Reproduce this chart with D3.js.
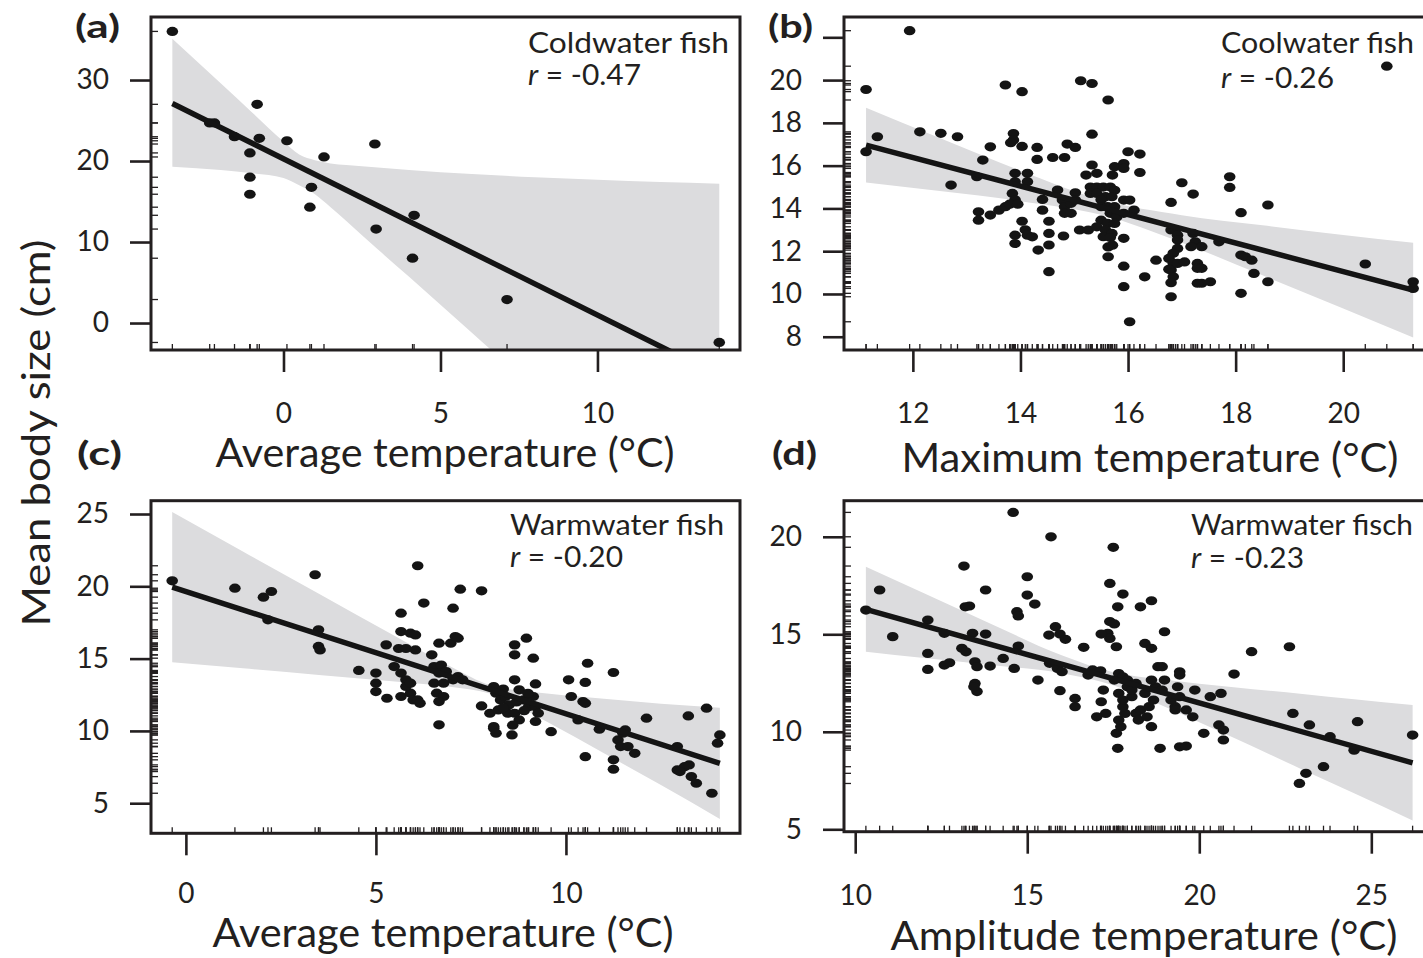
<!DOCTYPE html>
<html>
<head>
<meta charset="utf-8">
<script src="https://cdn.jsdelivr.net/npm/d3@7"></script>
<style>
    body { margin: 0; background: #fff; }
    text { font-family: Lato, "Open Sans", sans-serif; fill: #231f20; }
</style>
</head>
<body>
<svg id="chart" width="1423" height="958"></svg>
<script>
// ---- panel (a): coldwater fish, average temperature
var aTemp = [-3.54, -2.35, -2.2, -1.56, -1.07, -1.07, -1.07, -0.84, -0.77, 0.11, 0.89, 0.84, 1.29, 2.91, 2.95, 4.16, 4.11, 7.12, 13.88];
var aSize = [36.0, 24.7, 24.7, 23.0, 21.0, 18.0, 15.9, 27.0, 22.8, 22.5, 16.75, 14.3, 20.5, 22.1, 11.6, 13.3, 8.0, 2.9, -2.4];
var aFitT = [-3.54, 13.88];
var aFitV = [27.1, -6.5];
var aBandT = [-3.54, -2, -1, 0, 0.5, 1, 1.5, 2, 3, 4, 6, 8, 10, 12, 13.88];
var aBandHi = [35.1, 29.6, 26.0, 22.4, 20.8, 20.1, 19.7, 19.5, 19.2, 18.9, 18.4, 18.0, 17.7, 17.4, 17.2];
var aBandLo = [19.3, 18.9, 18.5, 17.9, 17.0, 15.9, 14.3, 12.6, 9.1, 5.7, -1.2, -8.1, -15.0, -21.9, -28.4];

// ---- panel (b): coolwater fish, maximum temperature
var bTemp = [11.94, 11.13, 20.81, 13.72, 14.03, 15.12, 15.33, 15.63, 12.13, 12.52, 12.83, 11.34, 11.13, 13.87, 13.87, 13.82, 14.03, 13.44, 13.30, 14.31,
    14.31, 14.60, 14.82, 14.87, 15.02, 15.33, 12.71, 13.19, 13.22, 13.22, 13.44, 13.60, 13.72, 13.90, 14.13, 13.90, 14.13, 13.85, 13.90, 13.80,
    13.95, 14.03, 14.09, 13.90, 14.13, 14.22, 13.90, 14.33, 14.53, 14.53, 14.53, 14.53, 14.41, 14.41, 14.69, 14.78, 14.82, 14.82, 14.94, 14.94,
    14.80, 15.02, 15.02, 15.10, 15.26, 15.33, 15.42, 15.22, 15.30, 15.42, 15.54, 15.67, 15.75, 15.30, 15.42, 15.58, 15.70, 15.50, 15.50, 15.62,
    15.75, 15.67, 15.79, 15.50, 15.62, 15.75, 15.42, 15.58, 15.70, 15.54, 15.67, 15.63, 15.71, 15.63, 15.71, 15.75, 15.92, 15.92, 16.00, 16.22,
    16.22, 15.92, 16.03, 16.11, 15.92, 15.92, 15.92, 15.92, 16.03, 16.31, 16.52, 16.80, 17.00, 17.21, 16.80, 16.88, 16.92, 16.92, 16.92, 16.84,
    16.76, 16.84, 16.80, 16.92, 16.76, 16.84, 16.80, 16.80, 17.05, 17.21, 17.25, 17.37, 17.17, 17.29, 17.29, 17.37, 17.37, 17.29, 17.53, 17.69,
    17.89, 17.89, 18.10, 18.10, 18.18, 18.30, 18.34, 18.10, 18.60, 18.60, 20.41, 21.30, 21.30];
var bSize = [22.31, 19.56, 20.65, 19.77, 19.46, 19.97, 19.84, 19.07, 17.58, 17.51, 17.35, 17.35, 16.65, 17.50, 17.20, 17.07, 16.90, 16.88, 16.26, 16.85,
    16.29, 16.38, 16.38, 17.01, 16.85, 17.47, 15.09, 15.48, 13.84, 13.45, 13.69, 13.92, 14.08, 15.64, 15.64, 15.25, 15.25, 14.70, 14.40, 14.20,
    14.20, 13.40, 13.00, 12.75, 12.75, 12.67, 12.36, 12.05, 11.04, 12.29, 12.83, 13.40, 14.42, 13.92, 14.86, 14.39, 14.08, 13.77, 13.77, 14.24,
    12.71, 14.73, 14.39, 12.99, 12.99, 16.03, 15.64, 15.56, 15.00, 15.00, 15.00, 15.00, 14.85, 14.70, 14.70, 14.55, 14.55, 14.40, 14.08, 14.08,
    14.08, 13.77, 13.60, 13.45, 13.30, 13.30, 13.14, 12.99, 12.83, 12.68, 12.64, 12.20, 12.28, 11.74, 15.56, 15.95, 16.10, 15.87, 16.65, 16.54,
    15.68, 14.39, 14.39, 13.92, 13.77, 12.60, 11.30, 10.34, 8.70, 10.80, 11.58, 14.28, 15.20, 14.67, 12.99, 12.99, 12.75, 12.52, 12.13, 11.90,
    11.66, 11.43, 11.12, 11.43, 11.15, 10.80, 10.53, 9.87, 11.50, 12.83, 12.44, 12.21, 12.21, 11.43, 11.20, 11.20, 10.50, 10.50, 10.57, 12.44,
    15.48, 14.98, 13.80, 11.82, 11.74, 11.58, 10.96, 10.03, 14.16, 10.57, 11.40, 10.57, 10.26];
var bFitT = [11.13, 21.3];
var bFitV = [16.96, 10.18];
var bBandT = [11.13, 12.5, 14, 15.5, 17, 18.5, 20, 21.3];
var bBandHi = [18.71, 17.29, 15.76, 14.40, 13.68, 13.21, 12.76, 12.39];
var bBandLo = [15.21, 14.81, 14.34, 13.70, 12.40, 10.87, 9.32, 7.97];

// ---- panel (c): warmwater fish, average temperature
var cTemp = [-0.36, 1.29, 2.04, 2.25, 2.16, 3.40, 3.49, 3.49, 3.53, 4.55, 5.00, 5.00, 5.00, 5.29, 5.27, 5.66, 5.66, 5.91, 6.04, 5.60,
    5.79, 6.04, 5.48, 5.66, 5.79, 5.66, 5.91, 5.98, 6.10, 6.16, 5.79, 5.91, 6.10, 6.26, 6.47, 6.66, 6.97, 6.66, 6.53, 6.72,
    6.66, 6.85, 6.53, 6.78, 6.60, 6.78, 6.66, 7.03, 7.16, 7.28, 7.03, 7.09, 7.16, 7.22, 7.78, 7.78, 8.10, 8.16, 8.00, 8.10,
    8.22, 8.28, 8.41, 8.47, 8.65, 8.65, 8.96, 9.14, 8.65, 8.77, 8.89, 9.02, 8.65, 8.77, 8.58, 8.10, 8.16, 9.14, 9.20, 9.27,
    9.20, 9.20, 9.61, 10.07, 10.14, 10.45, 10.51, 10.57, 10.51, 10.32, 10.51, 10.88, 11.25, 11.25, 11.25, 11.37, 11.56, 11.44, 11.63, 11.81,
    11.50, 12.12, 12.93, 12.93, 13.12, 13.24, 13.00, 13.22, 13.30, 13.43, 13.70, 13.84, 14.05, 13.99, 8.35, 8.50, 8.70, 8.35, 8.60, 8.90, 9.00];
var cSize = [20.38, 19.87, 19.25, 19.64, 17.68, 20.80, 16.99, 15.84, 15.60, 14.18, 14.00, 13.30, 12.72, 12.26, 15.95, 18.14, 16.87, 16.76, 16.64, 15.70,
    15.70, 15.60, 14.45, 14.00, 13.53, 12.38, 12.61, 12.14, 12.14, 11.91, 13.07, 13.30, 21.42, 18.84, 15.26, 16.07, 16.07, 10.42, 14.45, 14.55,
    14.00, 14.10, 13.30, 13.30, 12.61, 12.38, 12.03, 13.53, 13.76, 13.53, 18.49, 16.53, 16.41, 19.80, 19.69, 11.73, 13.07, 12.61, 11.22, 10.19,
    11.45, 12.14, 12.38, 11.22, 15.95, 15.26, 16.41, 15.03, 13.53, 12.84, 12.14, 11.68, 11.22, 10.76, 9.72, 10.30, 9.84, 12.38, 11.68, 11.22,
    10.65, 13.25, 9.95, 13.53, 12.38, 12.03, 11.91, 14.68, 13.35, 10.76, 8.22, 10.12, 14.04, 8.00, 7.35, 9.38, 10.07, 8.92, 8.92, 8.45,
    9.84, 10.88, 8.92, 7.30, 7.53, 7.65, 7.19, 11.04, 6.84, 6.38, 11.57, 5.69, 9.72, 9.15, 12.90, 11.80, 12.00, 11.60, 10.40, 11.40, 12.60];
var cFitT = [-0.36, 14.05];
var cFitV = [19.94, 7.76];
var cBandT = [-0.36, 1.5, 3.5, 5.5, 7, 8, 9.5, 11, 12.5, 14.05];
var cBandHi = [25.14, 22.41, 19.49, 16.57, 14.41, 13.18, 12.59, 12.23, 11.88, 11.61];
var cBandLo = [14.74, 14.33, 13.87, 13.41, 13.03, 12.58, 10.63, 8.45, 6.26, 3.91];

// ---- panel (d): warmwater fish, temperature amplitude
var dTemp = [10.31, 10.71, 11.09, 12.11, 12.11, 12.11, 12.59, 12.59, 12.74, 13.16, 13.20, 13.32, 13.10, 13.22, 13.41, 13.79, 13.48, 13.54, 13.48, 13.54,
    13.45, 13.79, 13.92, 14.30, 14.59, 14.62, 14.70, 14.74, 14.74, 15.00, 15.00, 15.22, 15.31, 15.69, 15.63, 15.82, 15.95, 16.11, 15.65, 15.88,
    16.01, 15.95, 16.39, 16.39, 16.64, 16.77, 16.90, 17.13, 17.50, 17.40, 17.78, 17.63, 17.40, 17.53, 17.34, 17.40, 17.59, 17.15, 17.21, 17.15,
    17.28, 17.02, 17.63, 17.59, 17.72, 17.66, 17.84, 17.78, 18.04, 17.53, 17.66, 17.78, 17.91, 17.91, 18.04, 18.16, 17.66, 17.78, 18.16, 18.23,
    18.29, 18.48, 18.61, 18.54, 18.67, 18.42, 18.73, 18.61, 18.29, 18.61, 18.42, 18.61, 18.99, 18.80, 18.92, 18.99, 18.92, 18.86, 19.43, 19.43,
    19.37, 19.43, 19.30, 19.43, 19.62, 19.18, 19.30, 19.62, 19.81, 19.87, 20.13, 20.32, 20.63, 20.57, 20.70, 20.70, 21.01, 21.52, 22.62, 22.72,
    22.91, 23.10, 23.20, 23.61, 23.80, 24.50, 24.60, 26.20];
var dSize = [16.24, 17.27, 14.88, 15.73, 14.02, 13.20, 15.05, 13.42, 13.54, 18.50, 16.41, 16.45, 14.28, 14.10, 15.05, 15.01, 13.59, 13.34, 12.48, 12.06,
    12.31, 17.27, 13.37, 13.76, 21.25, 13.25, 16.16, 15.94, 14.40, 17.95, 17.01, 16.55, 12.65, 20.00, 14.96, 15.39, 15.01, 14.74, 13.51, 13.25,
    13.08, 12.11, 11.71, 11.29, 14.33, 12.91, 13.17, 13.13, 19.46, 17.61, 17.06, 16.41, 15.65, 15.53, 15.05, 14.79, 14.36, 15.01, 12.14, 11.54,
    10.94, 10.77, 9.15, 9.92, 10.26, 10.60, 10.94, 11.29, 11.80, 12.65, 12.99, 12.82, 12.65, 12.31, 12.14, 12.48, 11.97, 11.63, 10.94, 10.60,
    11.12, 10.77, 10.26, 11.29, 11.63, 11.97, 12.31, 12.65, 16.41, 16.72, 14.53, 14.28, 15.13, 13.34, 13.34, 12.65, 12.14, 9.15, 13.08, 12.91,
    12.31, 11.80, 11.29, 9.23, 9.27, 11.63, 11.12, 11.12, 10.77, 12.14, 9.92, 11.80, 11.97, 10.35, 10.09, 9.58, 12.96, 14.11, 14.36, 10.94,
    7.35, 7.87, 10.35, 8.21, 9.75, 9.06, 10.52, 9.83];
var dFitT = [10.31, 26.2];
var dFitV = [16.28, 8.41];
var dBandT = [10.31, 12, 14, 16, 17.5, 19, 21, 23, 24.5, 26.2];
var dBandHi = [18.46, 17.10, 15.49, 13.92, 13.05, 12.67, 12.29, 11.94, 11.67, 11.37];
var dBandLo = [14.10, 13.78, 13.41, 13.00, 12.39, 11.29, 9.69, 8.06, 6.85, 5.45];

// ---- tick values
var aXTicks = [0, 5, 10], aYTicks = [0, 10, 20, 30];
var bXTicks = [12, 14, 16, 18, 20], bYTicks = [8, 10, 12, 14, 16, 18, 20, 22];
var cXTicks = [0, 5, 10], cYTicks = [5, 10, 15, 20, 25];
var dXTicks = [10, 15, 20, 25], dYTicks = [5, 10, 15, 20];

var ink = "#231f20";
var bandFill = "#dcdcde";
var svg = d3.select("#chart");

var panels = [
    { id: "a", temp: aTemp, size: aSize, fitT: aFitT, fitV: aFitV, bandT: aBandT, bandLo: aBandLo, bandHi: aBandHi,
      box: { left: 151, right: 740, top: 17, bottom: 350 }, xDom: [-4.22, 14.54], yDom: [-3.33, 37.78],
      xTicks: aXTicks, yTicks: aYTicks, hideY: [], tickY: 73,
      title: "Average temperature (°C)", titleX: 445, titleY: 467, titleW: 459,
      group: "Coldwater fish", r: "-0.47", noteX: 528, noteY1: 53, noteY2: 85, groupW: 201,
      letter: "(a)", letterX: 75, letterY: 38 },
    { id: "b", temp: bTemp, size: bSize, fitT: bFitT, fitV: bFitV, bandT: bBandT, bandLo: bBandLo, bandHi: bBandHi,
      box: { left: 844, right: 1425, top: 17, bottom: 350 }, xDom: [10.72, 21.52], yDom: [7.38, 22.95],
      xTicks: bXTicks, yTicks: bYTicks, hideY: [22], tickY: 73,
      title: "Maximum temperature (°C)", titleX: 1150, titleY: 472, titleW: 497,
      group: "Coolwater fish", r: "-0.26", noteX: 1221, noteY1: 53, noteY2: 88, groupW: 193,
      letter: "(b)", letterX: 768, letterY: 38 },
    { id: "c", temp: cTemp, size: cSize, fitT: cFitT, fitV: cFitV, bandT: cBandT, bandLo: cBandLo, bandHi: cBandHi,
      box: { left: 151, right: 740, top: 500.7, bottom: 833.3 }, xDom: [-0.918, 14.58], yDom: [2.92, 25.92],
      xTicks: cXTicks, yTicks: cYTicks, hideY: [], tickY: 70,
      title: "Average temperature (°C)", titleX: 443, titleY: 947, titleW: 461,
      group: "Warmwater fish", r: "-0.20", noteX: 510, noteY1: 535, noteY2: 567, groupW: 214,
      letter: "(c)", letterX: 77, letterY: 465 },
    { id: "d", temp: dTemp, size: dSize, fitT: dFitT, fitV: dFitV, bandT: dBandT, bandLo: dBandLo, bandHi: dBandHi,
      box: { left: 844, right: 1425, top: 500.7, bottom: 831.7 }, xDom: [9.674, 26.56], yDom: [4.877, 21.85],
      xTicks: dXTicks, yTicks: dYTicks, hideY: [], tickY: 73,
      title: "Amplitude temperature (°C)", titleX: 1144, titleY: 950, titleW: 507,
      group: "Warmwater fisch", r: "-0.23", noteX: 1191, noteY1: 535, noteY2: 568, groupW: 222,
      letter: "(d)", letterX: 772, letterY: 465 }
];

panels.forEach(drawPanel);

// shared y label
svg.append("text")
    .attr("transform", "translate(50,433) rotate(-90)")
    .attr("text-anchor", "middle")
    .attr("textLength", 387)
    .attr("lengthAdjust", "spacingAndGlyphs")
    .style("font-size", "39px")
    .text("Mean body size (cm)");

function drawPanel(p) {
    var b = p.box;
    var x = d3.scaleLinear().domain(p.xDom).range([b.left, b.right]);
    var y = d3.scaleLinear().domain(p.yDom).range([b.bottom, b.top]);
    var g = svg.append("g").attr("class", "panel panel-" + p.id);

    var clipId = "clip-" + p.id;
    g.append("clipPath").attr("id", clipId)
        .append("rect")
        .attr("x", b.left).attr("y", b.top)
        .attr("width", b.right - b.left).attr("height", b.bottom - b.top);

    // confidence band
    var band = d3.area()
        .x(function(d, i) { return x(p.bandT[i]); })
        .y0(function(d, i) { return y(p.bandLo[i]); })
        .y1(function(d, i) { return y(p.bandHi[i]); })
        .curve(d3.curveMonotoneX);
    g.append("path")
        .datum(p.bandT)
        .attr("clip-path", "url(#" + clipId + ")")
        .attr("fill", bandFill)
        .attr("d", band);

    // rugs (inward ticks)
    g.append("g").selectAll("line")
        .data(p.temp)
        .join("line")
        .attr("x1", function(d) { return x(d); })
        .attr("x2", function(d) { return x(d); })
        .attr("y1", b.bottom)
        .attr("y2", b.bottom - 6)
        .attr("stroke", ink).attr("stroke-width", 1.3);
    g.append("g").selectAll("line")
        .data(p.size)
        .join("line")
        .attr("y1", function(d) { return y(d); })
        .attr("y2", function(d) { return y(d); })
        .attr("x1", b.left)
        .attr("x2", b.left + 7)
        .attr("stroke", ink).attr("stroke-width", 1.3);

    // points
    g.append("g").selectAll("ellipse")
        .data(d3.range(p.temp.length))
        .join("ellipse")
        .attr("cx", function(i) { return x(p.temp[i]); })
        .attr("cy", function(i) { return y(p.size[i]); })
        .attr("rx", 5.8)
        .attr("ry", 4.6)
        .attr("fill", "#141414");

    // fitted line
    var line = d3.line()
        .x(function(d, i) { return x(p.fitT[i]); })
        .y(function(d, i) { return y(p.fitV[i]); });
    g.append("path")
        .datum(p.fitT)
        .attr("clip-path", "url(#" + clipId + ")")
        .attr("fill", "none")
        .attr("stroke", "#141414")
        .attr("stroke-width", 5.5)
        .attr("d", line);

    // box
    g.append("rect")
        .attr("x", b.left).attr("y", b.top)
        .attr("width", b.right - b.left).attr("height", b.bottom - b.top)
        .attr("fill", "none").attr("stroke", ink).attr("stroke-width", 3);

    // axes
    var xAxis = d3.axisBottom(x).tickValues(p.xTicks).tickSize(22).tickFormat(d3.format("d"));
    var gx = g.append("g")
        .attr("transform", "translate(0," + b.bottom + ")")
        .call(xAxis);
    var yAxis = d3.axisLeft(y).tickValues(p.yTicks).tickSize(21).tickPadding(21)
        .tickFormat(function(d) { return p.hideY.indexOf(d) >= 0 ? "" : d; });
    var gy = g.append("g")
        .attr("transform", "translate(" + b.left + ",0)")
        .call(yAxis);
    [gx, gy].forEach(function(ax) {
        ax.select(".domain").remove();
        ax.selectAll(".tick line").attr("stroke", ink).attr("stroke-width", 2.6);
        ax.selectAll(".tick text")
            .attr("fill", ink)
            .style("font-family", "Lato, 'Open Sans', sans-serif")
            .style("font-size", "28px");
    });
    gx.selectAll(".tick text").attr("y", p.tickY).attr("dy", "0");

    // axis title
    g.append("text")
        .attr("x", p.titleX).attr("y", p.titleY)
        .attr("text-anchor", "middle")
        .attr("textLength", p.titleW)
        .attr("lengthAdjust", "spacingAndGlyphs")
        .style("font-size", "40px")
        .text(p.title);

    // group + correlation note
    g.append("text")
        .attr("x", p.noteX).attr("y", p.noteY1)
        .attr("textLength", p.groupW)
        .attr("lengthAdjust", "spacingAndGlyphs")
        .style("font-size", "28px")
        .text(p.group);
    var rt = g.append("text")
        .attr("x", p.noteX).attr("y", p.noteY2)
        .attr("textLength", 113)
        .attr("lengthAdjust", "spacingAndGlyphs")
        .style("font-size", "28px");
    rt.append("tspan").style("font-style", "italic").text("r");
    rt.append("tspan").text(" = " + p.r);

    // panel letter
    g.append("text")
        .attr("x", p.letterX).attr("y", p.letterY)
        .attr("textLength", 45)
        .attr("lengthAdjust", "spacingAndGlyphs")
        .style("font-size", "32px")
        .style("font-weight", "bold")
        .text(p.letter);
}
</script>
</body>
</html>
